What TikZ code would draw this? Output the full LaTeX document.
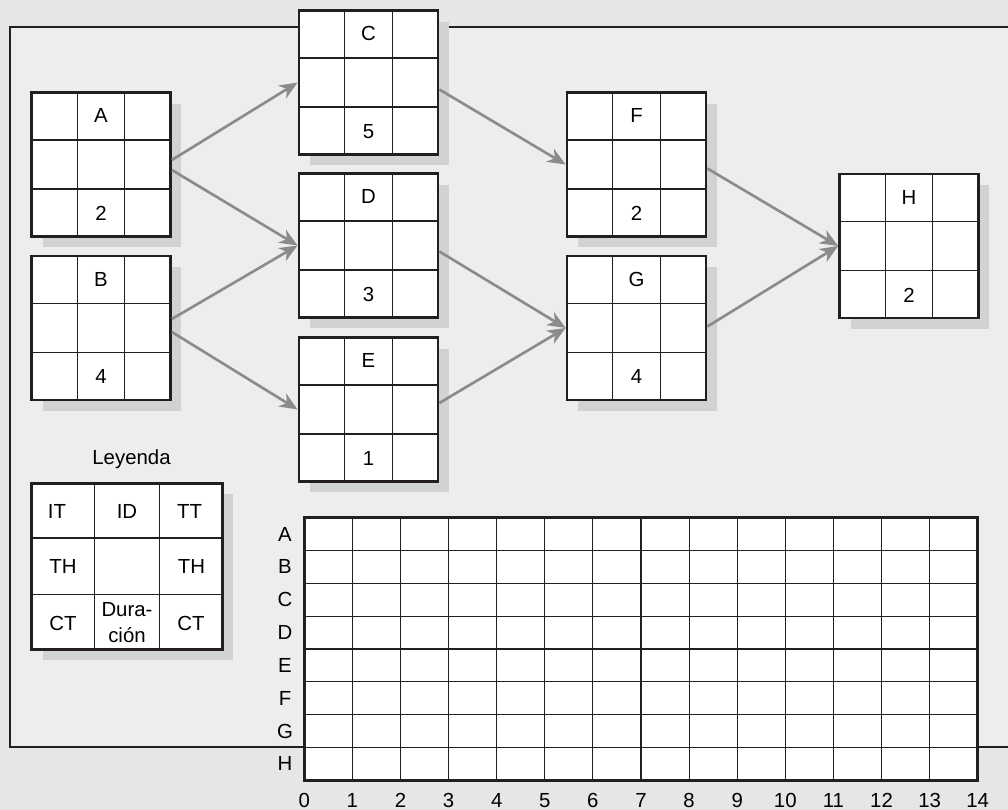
\documentclass[tikz,border=0pt]{standalone}
\usepackage{fontspec}
\setmainfont{Liberation Sans}
\usepackage{tikz}
\usetikzlibrary{arrows.meta,calc,shadows}
\definecolor{ink}{RGB}{35,31,32}
\definecolor{panel}{RGB}{237,237,237}
\definecolor{outside}{RGB}{230,230,230}
\definecolor{shade}{RGB}{209,210,212}
\definecolor{linkgray}{RGB}{138,139,141}

% 3x3 cells inside a box node
\newcommand{\cellgrid}[1]{%
  \foreach \f in {1/3,2/3} {
    \draw[cell] ($(#1.north west)!\f!(#1.north east)$) -- ($(#1.south west)!\f!(#1.south east)$);
    \draw[cell] ($(#1.north west)!\f!(#1.south west)$) -- ($(#1.north east)!\f!(#1.south east)$);
  }}
% activity box: name, position, duration
\newcommand{\actbox}[3]{%
  \node[act] (#1) at (#2) {};
  \cellgrid{#1}
  \node[lbl] (#1-id) at ($(#1.north)!1/6!(#1.south)$) {#1};
  \node[lbl] (#1-dur) at ($(#1.south)!1/6!(#1.north)$) {#3};
}

\begin{document}
\begin{tikzpicture}[
    x=0.02cm, y=-0.02cm,
    font=\fontsize{11.6}{14.7}\selectfont,
    act/.style={draw=ink, line width=1.6pt, fill=white, inner sep=0pt,
      minimum width=2.78cm, minimum height=2.88cm,
      drop shadow={shadow xshift=0.22cm, shadow yshift=-0.22cm, fill=shade, opacity=1}},
    cell/.style={draw=ink, line width=0.65pt},
    lbl/.style={inner sep=0pt, text=black},
    link/.style={draw=linkgray, line width=1.5pt, -{Stealth[length=0.36cm, width=0.3cm, inset=0.11cm]}},
    frame/.style={draw=ink, line width=1.3pt}
  ]
  \path[use as bounding box, fill=outside] (0,0) rectangle (1008,810);
  \clip (0,0) rectangle (1008,810);
  % panel
  \fill[panel] (10,27) rectangle (1020,747);
  \draw[frame] (1020,27) -- (10,27) -- (10,747) -- (1020,747);

  % network
  \actbox{A}{101,164.5}{2}
  \actbox{B}{101,328}{4}
  \actbox{C}{368.5,82.5}{5}
  \actbox{D}{368.5,245.5}{3}
  \actbox{E}{368.5,409.5}{1}
  \actbox{F}{636.5,164.5}{2}
  \actbox{G}{636.5,328}{4}
  \actbox{H}{909,246}{2}

  \draw[link] ($(A.east)+(0,-4.5)$) -- (C.west);
  \draw[link] ($(A.east)+(0,5.5)$) -- (D.west);
  \draw[link] ($(B.east)+(0,-9)$) -- (D.west);
  \draw[link] ($(B.east)+(0,4)$) -- (E.west);
  \draw[link] ($(C.east)+(0,7)$) -- (F.west);
  \draw[link] ($(D.east)+(0,6)$) -- (G.west);
  \draw[link] ($(E.east)+(0,-6.5)$) -- (G.west);
  \draw[link] ($(F.east)+(0,4)$) -- (H.west);
  \draw[link] ($(G.east)+(0,-1.5)$) -- (H.west);

  % legend
  \node[lbl, anchor=base] (legend-title) at (131.5,465) {Leyenda};
  \node[act, minimum width=3.82cm, minimum height=3.32cm] (legend) at (127,566.2) {};
  \cellgrid{legend}
  \node[lbl] (leg-it) at (57,511) {IT};
  \node[lbl] (leg-id) at (127,511) {ID};
  \node[lbl] (leg-tt) at (189.5,511) {TT};
  \node[lbl] (leg-th1) at (63,566.5) {TH};
  \node[lbl] (leg-th2) at (191.5,566.5) {TH};
  \node[lbl] (leg-ct1) at (63,623) {CT};
  \node[lbl, align=center] (leg-dur) at (127,623) {Dura-\\ción};
  \node[lbl] (leg-ct2) at (191,623) {CT};

  % gantt chart
  \fill[white] (304.3,517.7) rectangle (977.7,780.3);
  \foreach \i in {1,...,13}
    \draw[cell] ({304.3+48.1*\i},517.7) -- ({304.3+48.1*\i},780.3);
  \foreach \j in {1,...,7}
    \draw[cell] (304.3,{517.7+32.83*\j}) -- (977.7,{517.7+32.83*\j});
  \draw[ink, line width=1.6pt] (304.3,517.7) rectangle (977.7,780.3);
  \foreach \r [count=\k] in {A,B,C,D,E,F,G,H}
    \node[lbl] (row-\r) at (285,{517.7+32.83*(\k-0.5)}) {\r};
  \foreach \i in {0,...,14}
    \node[lbl] (day-\i) at ({304.3+48.1*\i},800.7) {\i};
\end{tikzpicture}
\end{document}
